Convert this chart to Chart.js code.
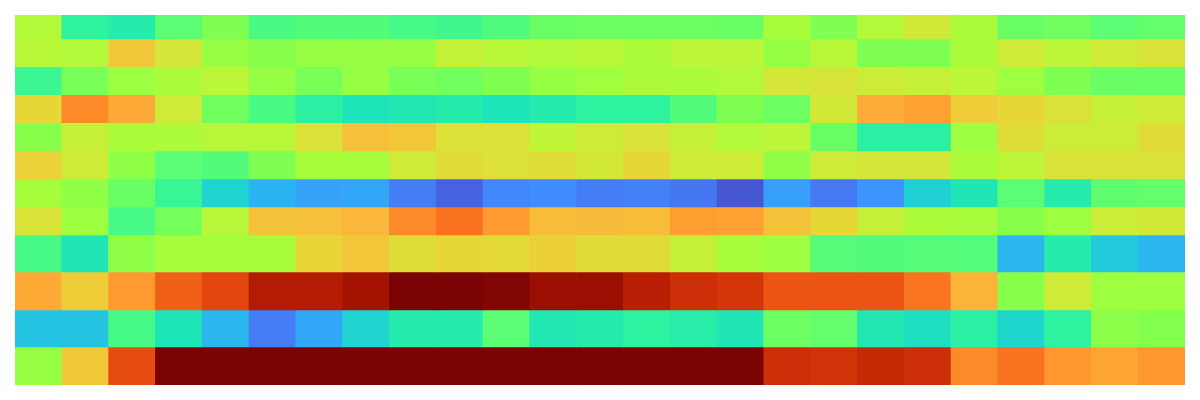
<!DOCTYPE html>
<html>
<head>
<meta charset="utf-8">
<script src="https://cdn.jsdelivr.net/npm/chart.js@4"></script>
<style>
  body { margin: 0; background: #fff; }
</style>
</head>
<body>
<canvas id="myCanvas" width="1200" height="400"></canvas>
<script>
// Columns (x categories)
const columns = ['1','2','3','4','5','6','7','8','9','10','11','12','13','14','15','16','17','18','19','20','21','22','23','24','25'];

// Row bin edges on the y axis (top to bottom)
const rowEdges = [0, 24, 51.7, 79.7, 107.7, 135.7, 163.7, 191.7, 219.7, 256.7, 294.7, 331.7, 369.7];

// Cell values, one array per row (0..1, turbo scale)
const row0  = [0.50,0.32,0.30,0.38,0.43,0.36,0.37,0.37,0.355,0.345,0.365,0.40,0.405,0.405,0.405,0.40,0.48,0.43,0.50,0.56,0.49,0.40,0.41,0.38,0.39];
const row1  = [0.51,0.50,0.63,0.565,0.46,0.44,0.46,0.46,0.46,0.53,0.51,0.50,0.51,0.49,0.515,0.515,0.46,0.51,0.43,0.43,0.49,0.55,0.515,0.55,0.57];
const row2  = [0.34,0.42,0.47,0.49,0.515,0.46,0.42,0.46,0.42,0.41,0.43,0.46,0.47,0.49,0.49,0.50,0.565,0.57,0.545,0.535,0.515,0.47,0.43,0.40,0.40];
const row3  = [0.60,0.73,0.68,0.55,0.41,0.36,0.315,0.28,0.29,0.30,0.28,0.30,0.32,0.32,0.37,0.43,0.405,0.56,0.675,0.695,0.62,0.60,0.575,0.535,0.55];
const row4  = [0.44,0.535,0.49,0.49,0.51,0.51,0.58,0.645,0.635,0.58,0.58,0.52,0.55,0.575,0.535,0.50,0.515,0.40,0.315,0.315,0.47,0.585,0.545,0.545,0.59];
const row5  = [0.61,0.55,0.45,0.38,0.37,0.43,0.48,0.48,0.55,0.59,0.58,0.585,0.56,0.60,0.55,0.55,0.45,0.55,0.565,0.565,0.49,0.515,0.575,0.575,0.575];
const row6  = [0.48,0.45,0.40,0.335,0.25,0.205,0.185,0.19,0.14,0.10,0.155,0.16,0.14,0.145,0.13,0.085,0.18,0.135,0.17,0.245,0.285,0.38,0.30,0.385,0.39];
const row7  = [0.575,0.47,0.355,0.415,0.51,0.64,0.645,0.66,0.73,0.765,0.705,0.65,0.655,0.65,0.70,0.695,0.64,0.60,0.535,0.49,0.485,0.44,0.47,0.545,0.56];
const row8  = [0.355,0.285,0.45,0.48,0.48,0.48,0.605,0.635,0.585,0.60,0.595,0.615,0.59,0.59,0.535,0.48,0.47,0.375,0.37,0.375,0.372,0.21,0.30,0.235,0.21];
const row9  = [0.68,0.62,0.705,0.79,0.825,0.905,0.905,0.93,1.0,1.0,0.99,0.945,0.945,0.90,0.865,0.85,0.805,0.805,0.805,0.762,0.665,0.44,0.55,0.47,0.47];
const row10 = [0.227,0.227,0.355,0.28,0.21,0.14,0.19,0.25,0.30,0.30,0.38,0.29,0.30,0.32,0.305,0.285,0.405,0.39,0.29,0.27,0.315,0.255,0.32,0.445,0.435];
const row11 = [0.46,0.63,0.815,1,1,1,1,1,1,1,1,1,1,1,1,1,0.865,0.855,0.875,0.865,0.73,0.765,0.71,0.69,0.71];

const rows = [row0, row1, row2, row3, row4, row5, row6, row7, row8, row9, row10, row11];

// Turbo-like colour stops
const turboStops = [
  [0.00, [48, 18, 59]],
  [0.08, [70, 85, 205]],
  [0.12, [72, 110, 238]],
  [0.16, [65, 140, 254]],
  [0.20, [45, 175, 245]],
  [0.24, [30, 205, 215]],
  [0.28, [30, 228, 185]],
  [0.32, [45, 242, 160]],
  [0.36, [75, 250, 130]],
  [0.40, [105, 255, 100]],
  [0.44, [135, 255, 75]],
  [0.48, [165, 253, 60]],
  [0.52, [190, 245, 55]],
  [0.56, [210, 232, 55]],
  [0.60, [230, 215, 55]],
  [0.64, [245, 195, 58]],
  [0.68, [254, 170, 55]],
  [0.72, [254, 145, 42]],
  [0.76, [250, 118, 32]],
  [0.80, [238, 88, 20]],
  [0.84, [218, 58, 10]],
  [0.88, [195, 38, 5]],
  [0.92, [170, 22, 2]],
  [0.96, [145, 10, 2]],
  [1.00, [122, 4, 3]]
];

function turbo(v) {
  v = Math.max(0, Math.min(1, v));
  for (let i = 1; i < turboStops.length; i++) {
    const [t1, c1] = turboStops[i];
    if (v <= t1) {
      const [t0, c0] = turboStops[i - 1];
      const f = (v - t0) / (t1 - t0);
      const c = c0.map((a, k) => Math.round(a + (c1[k] - a) * f));
      return `rgb(${c[0]}, ${c[1]}, ${c[2]})`;
    }
  }
  return 'rgb(122, 4, 3)';
}

// One stacked dataset per row
const datasets = rows.map((vals, i) => ({
  label: 'row ' + i,
  data: columns.map(() => rowEdges[i + 1] - rowEdges[i]),
  backgroundColor: vals.map(turbo),
  borderWidth: 0,
  barPercentage: 1,
  categoryPercentage: 1,
}));

const ctx = document.getElementById('myCanvas').getContext('2d');
const chart = new Chart(ctx, {
  type: 'bar',
  data: { labels: columns, datasets: datasets },
  options: {
    responsive: false,
    devicePixelRatio: 1,
    animation: false,
    layout: { padding: { left: 15, right: 15, top: 15, bottom: 15 } },
    plugins: { legend: { display: false }, tooltip: { enabled: false } },
    scales: {
      x: { stacked: true, display: false },
      y: { stacked: true, display: false, reverse: true, min: 0, max: rowEdges[rowEdges.length - 1] },
    },
  },
});
</script>
</body>
</html>
